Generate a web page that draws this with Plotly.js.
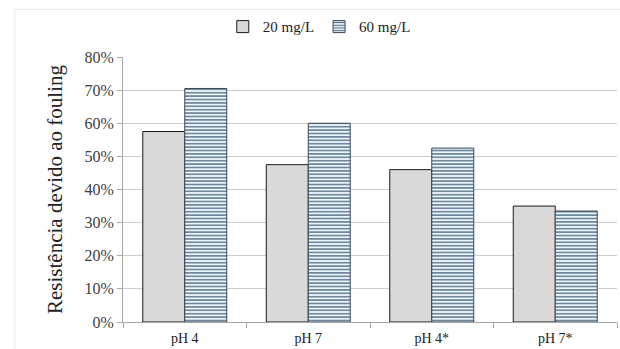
<!DOCTYPE html>
<html>
<head>
<meta charset="utf-8">
<script src="https://cdn.plot.ly/plotly-3.0.1.min.js"></script>
<style>
  html, body { margin: 0; padding: 0; background: #fff; }
  #chart { width: 620px; height: 349px; }
</style>
</head>
<body>
<div id="chart"></div>
<script>
// Fouling resistance by pH condition and feed concentration
const categories = ['pH 4', 'pH 7', 'pH 4*', 'pH 7*'];
const series20 = [0.575, 0.475, 0.46, 0.35];
const series60 = [0.705, 0.60, 0.525, 0.335];
const seriesNames = ['20 mg/L', '60 mg/L'];
const yTickVals = [0, 0.1, 0.2, 0.3, 0.4, 0.5, 0.6, 0.7, 0.8];
const yTickText = ['0%', '10%', '20%', '30%', '40%', '50%', '60%', '70%', '80%'];

const serif = 'Liberation Serif';

const traces = [
  {
    type: 'bar',
    name: seriesNames[0],
    x: categories,
    y: series20,
    marker: {
      color: '#d9d9d9',
      line: { color: '#1a1a1a', width: 1 }
    }
  },
  {
    type: 'bar',
    name: seriesNames[1],
    x: categories,
    y: series60,
    marker: {
      color: '#eef7fb',
      line: { color: '#3c4654', width: 1 },
      pattern: {
        shape: '-',
        fgcolor: '#4f6d8a',
        bgcolor: '#eef7fb',
        size: 3.4,
        solidity: 0.4,
        fillmode: 'replace'
      }
    }
  }
];

const layout = {
  width: 620,
  height: 349,
  margin: { l: 123, r: 3, t: 57, b: 27 },
  paper_bgcolor: '#ffffff',
  plot_bgcolor: '#ffffff',
  font: { family: serif, size: 14, color: '#333333' },
  barmode: 'group',
  bargap: 0.32,
  bargroupgap: 0,
  showlegend: true,
  legend: {
    orientation: 'h',
    xref: 'container', yref: 'container',
    x: 0.515, xanchor: 'center',
    y: 0.923, yanchor: 'middle',
    font: { family: serif, size: 15, color: '#222222' },
    itemwidth: 30,
    tracegroupgap: 0
  },
  xaxis: {
    type: 'category',
    showgrid: false,
    showline: true,
    linecolor: '#a6a6a6',
    linewidth: 1,
    ticks: 'outside',
    tickson: 'boundaries',
    ticklen: 5,
    tickcolor: '#a6a6a6',
    ticklabelstandoff: 3,
    tickfont: { family: serif, size: 14, color: '#222222' },
    fixedrange: true
  },
  yaxis: {
    range: [0, 0.8],
    tickvals: yTickVals,
    ticktext: yTickText,
    showgrid: true,
    gridcolor: '#cfcfcf',
    gridwidth: 1,
    zeroline: false,
    showline: true,
    linecolor: '#a6a6a6',
    ticks: 'outside',
    ticklen: 5,
    tickcolor: '#a6a6a6',
    tickfont: { family: serif, size: 16, color: '#404040' },
    title: {
      text: 'Resistência devido ao fouling',
      font: { family: serif, size: 21, color: '#222222' },
      standoff: 16
    },
    fixedrange: true
  },
  shapes: [
    {
      type: 'line', xref: 'paper', yref: 'paper',
      x0: -0.219, x1: 1.01, y0: 1.18, y1: 1.18,
      line: { color: '#e6e6ee', width: 1 }
    },
    {
      type: 'line', xref: 'paper', yref: 'paper',
      x0: -0.219, x1: -0.219, y0: 1.18, y1: -0.11,
      line: { color: '#ececf0', width: 1 }
    }
  ]
};

Plotly.newPlot('chart', traces, layout, { displayModeBar: false, staticPlot: true });
</script>
</body>
</html>
